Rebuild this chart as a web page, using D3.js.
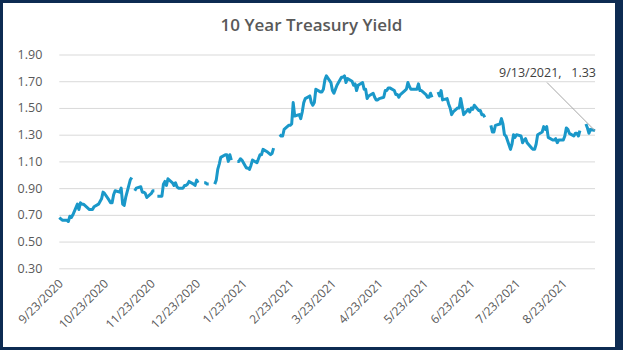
<!DOCTYPE html>
<html>
<head>
<meta charset="utf-8">
<script src="https://cdn.jsdelivr.net/npm/d3@7"></script>
<style>
  html, body { margin: 0; padding: 0; background: #fff; }
  svg { display: block; }
  text { font-family: "Open Sans", "Liberation Sans", sans-serif; }
</style>
</head>
<body>
<svg id="chart" width="623" height="350"></svg>
<script>
// 10-year Treasury constant-maturity yield, daily closes (percent); null = market holiday
const title = "10 Year Treasury Yield";

const dates = [
  "2020-09-23","2020-09-24","2020-09-25","2020-09-28","2020-09-29","2020-09-30",
  "2020-10-01","2020-10-02","2020-10-05","2020-10-06","2020-10-07","2020-10-08","2020-10-09",
  "2020-10-13","2020-10-14","2020-10-15","2020-10-16","2020-10-19","2020-10-20","2020-10-21",
  "2020-10-22","2020-10-23","2020-10-26","2020-10-27","2020-10-28","2020-10-29","2020-10-30",
  "2020-11-02","2020-11-03","2020-11-04","2020-11-05","2020-11-06","2020-11-09","2020-11-10",
  "2020-11-11","2020-11-12","2020-11-13","2020-11-16","2020-11-17","2020-11-18","2020-11-19",
  "2020-11-20","2020-11-23","2020-11-24","2020-11-25","2020-11-26","2020-11-27","2020-11-30",
  "2020-12-01","2020-12-02","2020-12-03","2020-12-04","2020-12-07","2020-12-08","2020-12-09",
  "2020-12-10","2020-12-11","2020-12-14","2020-12-15","2020-12-16","2020-12-17","2020-12-18",
  "2020-12-21","2020-12-22","2020-12-23","2020-12-24","2020-12-25","2020-12-28","2020-12-29",
  "2020-12-30","2020-12-31",
  "2021-01-01","2021-01-04","2021-01-05","2021-01-06","2021-01-07","2021-01-08","2021-01-11",
  "2021-01-12","2021-01-13","2021-01-14","2021-01-15","2021-01-18","2021-01-19","2021-01-20",
  "2021-01-21","2021-01-22","2021-01-25","2021-01-26","2021-01-27","2021-01-28","2021-01-29",
  "2021-02-01","2021-02-02","2021-02-03","2021-02-04","2021-02-05","2021-02-08","2021-02-09",
  "2021-02-10","2021-02-11","2021-02-12","2021-02-15","2021-02-16","2021-02-17","2021-02-18",
  "2021-02-19","2021-02-22","2021-02-23","2021-02-24","2021-02-25","2021-02-26",
  "2021-03-01","2021-03-02","2021-03-03","2021-03-04","2021-03-05","2021-03-08","2021-03-09",
  "2021-03-10","2021-03-11","2021-03-12","2021-03-15","2021-03-16","2021-03-17","2021-03-18",
  "2021-03-19","2021-03-22","2021-03-23","2021-03-24","2021-03-25","2021-03-26","2021-03-29",
  "2021-03-30","2021-03-31",
  "2021-04-01","2021-04-02","2021-04-05","2021-04-06","2021-04-07","2021-04-08","2021-04-09",
  "2021-04-12","2021-04-13","2021-04-14","2021-04-15","2021-04-16","2021-04-19","2021-04-20",
  "2021-04-21","2021-04-22","2021-04-23","2021-04-26","2021-04-27","2021-04-28","2021-04-29",
  "2021-04-30",
  "2021-05-03","2021-05-04","2021-05-05","2021-05-06","2021-05-07","2021-05-10","2021-05-11",
  "2021-05-12","2021-05-13","2021-05-14","2021-05-17","2021-05-18","2021-05-19","2021-05-20",
  "2021-05-21","2021-05-24","2021-05-25","2021-05-26","2021-05-27","2021-05-28","2021-05-31",
  "2021-06-01","2021-06-02","2021-06-03","2021-06-04","2021-06-07","2021-06-08","2021-06-09",
  "2021-06-10","2021-06-11","2021-06-14","2021-06-15","2021-06-16","2021-06-17","2021-06-18",
  "2021-06-21","2021-06-22","2021-06-23","2021-06-24","2021-06-25","2021-06-28","2021-06-29",
  "2021-06-30",
  "2021-07-01","2021-07-02","2021-07-05","2021-07-06","2021-07-07","2021-07-08","2021-07-09",
  "2021-07-12","2021-07-13","2021-07-14","2021-07-15","2021-07-16","2021-07-19","2021-07-20",
  "2021-07-21","2021-07-22","2021-07-23","2021-07-26","2021-07-27","2021-07-28","2021-07-29",
  "2021-07-30",
  "2021-08-02","2021-08-03","2021-08-04","2021-08-05","2021-08-06","2021-08-09","2021-08-10",
  "2021-08-11","2021-08-12","2021-08-13","2021-08-16","2021-08-17","2021-08-18","2021-08-19",
  "2021-08-20","2021-08-23","2021-08-24","2021-08-25","2021-08-26","2021-08-27","2021-08-30",
  "2021-08-31",
  "2021-09-01","2021-09-02","2021-09-03","2021-09-06","2021-09-07","2021-09-08","2021-09-09",
  "2021-09-10","2021-09-13"
];

const yields = [
  0.68,0.67,0.66,0.66,0.65,0.69,
  0.68,0.70,0.78,0.74,0.79,0.78,0.78,
  0.74,0.74,0.74,0.76,0.78,0.80,0.82,
  0.87,0.86,0.81,0.79,0.79,0.85,0.88,
  0.87,0.90,0.78,0.77,0.83,0.96,0.98,
  null,0.88,0.90,0.91,0.87,0.87,0.86,
  0.83,0.86,0.88,0.88,null,0.84,0.84,
  0.93,0.95,0.92,0.97,0.94,0.92,0.94,
  0.91,0.90,0.90,0.92,0.92,0.93,0.95,
  0.93,0.92,0.96,0.94,null,0.94,0.94,
  0.93,0.93,
  null,0.93,0.96,1.04,1.08,1.13,1.15,
  1.15,1.10,1.15,1.11,null,1.10,1.10,
  1.12,1.11,1.05,1.05,1.04,1.07,1.11,
  1.09,1.12,1.15,1.15,1.19,1.17,1.16,
  1.15,1.16,1.20,null,1.30,1.29,1.29,
  1.34,1.37,1.37,1.38,1.54,1.44,
  1.45,1.42,1.47,1.54,1.57,1.59,1.54,
  1.52,1.54,1.64,1.62,1.62,1.64,1.71,
  1.74,1.69,1.63,1.61,1.64,1.67,1.73,
  1.73,1.74,
  1.69,1.72,1.70,1.67,1.68,1.63,1.67,
  1.69,1.64,1.64,1.57,1.59,1.61,1.58,
  1.56,1.56,1.57,1.58,1.63,1.63,1.65,
  1.65,
  1.63,1.60,1.60,1.58,1.60,1.63,1.64,
  1.69,1.66,1.64,1.64,1.64,1.68,1.63,
  1.63,1.60,1.58,1.58,1.61,1.58,null,
  1.62,1.59,1.63,1.56,1.57,1.53,1.50,
  1.45,1.47,1.50,1.50,1.57,1.51,1.45,
  1.49,1.47,1.50,1.49,1.52,1.48,1.48,
  1.45,
  1.45,1.43,null,1.37,1.32,1.32,1.37,
  1.38,1.42,1.38,1.30,1.29,1.19,1.23,
  1.30,1.28,1.30,1.29,1.24,1.26,1.27,
  1.24,
  1.20,1.19,1.19,1.23,1.30,1.32,1.36,
  1.34,1.36,1.28,1.26,1.26,1.27,1.24,
  1.26,1.26,1.29,1.35,1.34,1.31,1.29,
  1.31,
  1.31,1.29,1.33,null,1.38,1.35,1.31,
  1.34,1.33
];

const yTicks = [0.30, 0.50, 0.70, 0.90, 1.10, 1.30, 1.50, 1.70, 1.90];
const xTickLabels = [
  "9/23/2020","10/23/2020","11/23/2020","12/23/2020","1/23/2021","2/23/2021",
  "3/23/2021","4/23/2021","5/23/2021","6/23/2021","7/23/2021","8/23/2021"
];

// ---- layout ----
const W = 623, H = 350;
const plot = { left: 59.3, right: 595, top: 54.5, bottom: 268.3 };

const parseISO = d3.utcParse("%Y-%m-%d");
const parseLabel = d3.utcParse("%m/%d/%Y");
const fmtLabel = d3.utcFormat("%-m/%-d/%Y");

const series = dates.map((d, i) => ({ date: parseISO(d), value: yields[i] }));

const x = d3.scaleUtc()
  .domain(d3.extent(series, d => d.date))
  .range([plot.left, plot.right]);

const y = d3.scaleLinear()
  .domain([yTicks[0], yTicks[yTicks.length - 1]])
  .range([plot.bottom, plot.top]);

const svg = d3.select("#chart");

// navy frame with white card inside
svg.append("rect").attr("width", W).attr("height", H).attr("fill", "#0d2b52");
svg.append("rect").attr("x", 3).attr("y", 3).attr("width", W - 6 - 5).attr("height", H - 6)
  .attr("fill", "#ffffff");

// title
svg.append("text")
  .attr("x", 311.5).attr("y", 31)
  .attr("text-anchor", "middle")
  .attr("fill", "#595959")
  .style("font-size", "17px")
  .style("font-weight", "600")
  .text(title);

// horizontal gridlines + value labels
const yAxis = svg.append("g")
  .attr("transform", `translate(${plot.left},0)`)
  .call(d3.axisLeft(y)
    .tickValues(yTicks)
    .tickSize(-(plot.right - plot.left))
    .tickPadding(17)
    .tickFormat(d3.format(".2f")));
yAxis.select(".domain").remove();
yAxis.selectAll(".tick line").attr("stroke", "#d9d9d9").attr("stroke-width", 1);
yAxis.selectAll(".tick text")
  .attr("fill", "#595959")
  .style("font-size", "12.5px");

// date labels, rotated 45 degrees
const xAxis = svg.append("g")
  .attr("transform", `translate(0,${plot.bottom})`)
  .call(d3.axisBottom(x)
    .tickValues(xTickLabels.map(s => parseLabel(s)))
    .tickSize(0)
    .tickFormat(fmtLabel));
xAxis.select(".domain").remove();
xAxis.selectAll(".tick text")
  .attr("fill", "#595959")
  .style("font-size", "12px")
  .attr("text-anchor", "end")
  .attr("dy", "0.35em")
  .attr("y", 0)
  .attr("transform", "translate(1,13) rotate(-45)");

// yield line; holidays break the line
const line = d3.line()
  .defined(d => d.value != null)
  .x(d => x(d.date))
  .y(d => y(d.value));

svg.append("path")
  .datum(series)
  .attr("fill", "none")
  .attr("stroke", "#1a98c9")
  .attr("stroke-width", 3)
  .attr("stroke-linejoin", "round")
  .attr("stroke-linecap", "butt")
  .attr("d", line);

// callout on the latest reading
const last = series.filter(d => d.value != null).pop();
const lx = x(last.date), ly = y(last.value);
svg.append("line")
  .attr("x1", 547).attr("y1", 82.5)
  .attr("x2", lx).attr("y2", ly)
  .attr("stroke", "#a6a6a6").attr("stroke-width", 1);
svg.append("text")
  .attr("x", 596).attr("y", 77)
  .attr("text-anchor", "end")
  .attr("fill", "#404040")
  .style("font-size", "12.5px")
  .style("white-space", "pre")
  .text(`${fmtLabel(last.date)},   ${last.value.toFixed(2)}`);
</script>
</body>
</html>
